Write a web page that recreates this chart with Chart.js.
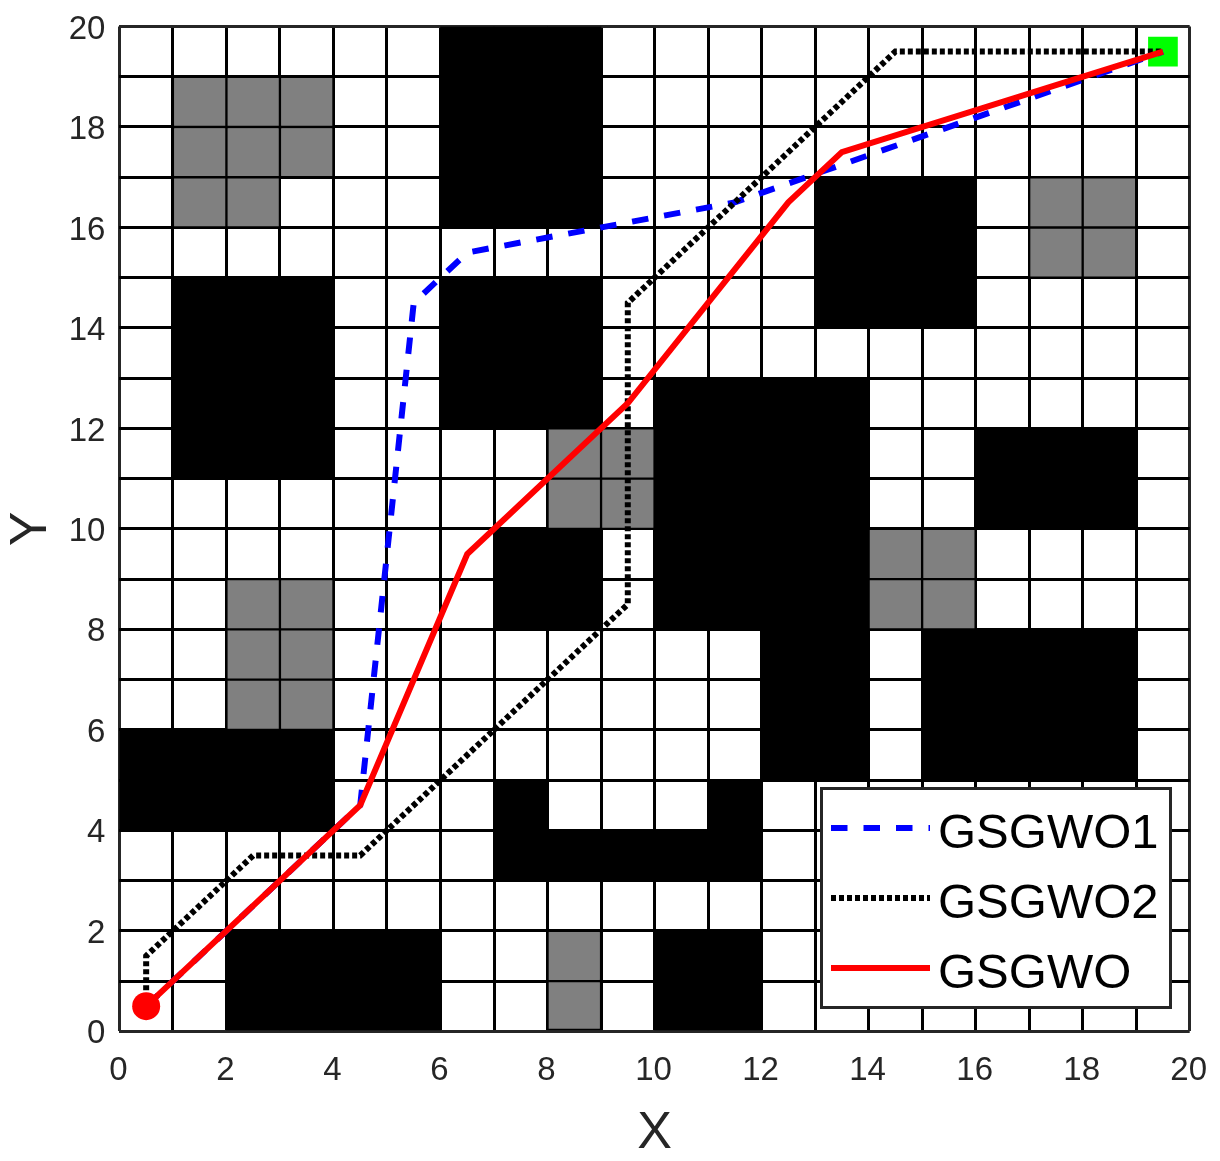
<!DOCTYPE html>
<html>
<head>
<meta charset="utf-8">
<title>GSGWO paths</title>
<script src="https://cdn.jsdelivr.net/npm/chart.js@4/dist/chart.umd.min.js"></script>
<style>
    html, body { margin: 0; padding: 0; background: #ffffff; }
    canvas { display: block; }
</style>
</head>
<body>
<canvas id="grid-chart" width="1220" height="1161"></canvas>
<script>
// Obstacle columns: column index, low row edge, high row edge
const blackCol  = [0, 1, 2, 3,  1, 2, 3,  2, 3, 4, 5,  6, 7, 8,  6, 7, 8,  7, 8,  7, 8, 9, 10, 11,  10, 11, 12, 13,  10, 11,  13, 14, 15,  15, 16, 17, 18,  16, 17, 18];
const blackLow  = [4, 4, 4, 4,  11, 11, 11,  0, 0, 0, 0,  16, 16, 16,  12, 12, 12,  8, 8,  3, 3, 3, 3, 3,  8, 8, 5, 5,  0, 0,  14, 14, 14,  5, 5, 5, 5,  10, 10, 10];
const blackHigh = [6, 6, 6, 6,  15, 15, 15,  2, 2, 2, 2,  20, 20, 20,  15, 15, 15,  10, 10,  5, 4, 4, 4, 5,  13, 13, 13, 13,  2, 2,  17, 17, 17,  8, 8, 8, 8,  12, 12, 12];

// Grey cells: column index, row index
const grayCol = [1, 2, 1, 2, 3, 1, 2, 3,  17, 18, 17, 18,  8, 9, 8, 9,  14, 15, 14, 15,  2, 3, 2, 3, 2, 3,  8, 8];
const grayRow = [16, 16, 17, 17, 17, 18, 18, 18,  15, 15, 16, 16,  10, 10, 11, 11,  8, 8, 9, 9,  6, 6, 7, 7, 8, 8,  0, 1];

// Paths
const path1X = [0.5, 4.5, 5.5, 6.5, 11.5, 19.5];
const path1Y = [0.5, 4.5, 14.5, 15.5, 16.5, 19.5];
const path2X = [0.5, 0.5, 2.5, 4.5, 9.5, 9.5, 14.5, 19.5];
const path2Y = [0.5, 1.5, 3.5, 3.5, 8.5, 14.5, 19.5, 19.5];
const path3X = [0.5, 4.5, 6.5, 9.5, 12.5, 13.5, 19.5];
const path3Y = [0.5, 4.5, 9.5, 12.5, 16.5, 17.5, 19.5];

const startPoint = [0.5, 0.5];
const goalPoint = [19.5, 19.5];

const seriesNames = ['GSGWO1', 'GSGWO2', 'GSGWO'];

const AXIS_COLOR = '#262626';
const FONT = '"Liberation Sans", Arial, sans-serif';

function zipPoints(xs, ys) {
    return xs.map((x, i) => ({ x: x, y: ys[i] }));
}

const blackBars = blackCol.map((c, i) => ({ x: c + 0.5, y: [blackLow[i], blackHigh[i]] }));
const grayBars = grayCol.map((c, i) => ({ x: c + 0.5, y: [grayRow[i], grayRow[i] + 1] }));

// Boxed legend inside the axes, like the MATLAB one
const boxedLegend = {
    id: 'boxedLegend',
    afterDatasetsDraw(chart) {
        const ctx = chart.ctx;
        const lines = chart.data.datasets.filter(d => d.legendRow !== undefined)
            .sort((a, b) => a.legendRow - b.legendRow);
        ctx.save();
        ctx.fillStyle = '#ffffff';
        ctx.strokeStyle = AXIS_COLOR;
        ctx.lineWidth = 3;
        ctx.fillRect(821.5, 788.5, 349, 219);
        ctx.strokeRect(821.5, 788.5, 349, 219);
        lines.forEach((d, i) => {
            const y = 828 + i * 70;
            ctx.beginPath();
            ctx.setLineDash(d.borderDash || []);
            ctx.strokeStyle = d.borderColor;
            ctx.lineWidth = d.borderWidth;
            ctx.moveTo(831, y);
            ctx.lineTo(930, y);
            ctx.stroke();
            ctx.setLineDash([]);
            ctx.fillStyle = '#000000';
            ctx.font = '49px ' + FONT;
            ctx.textBaseline = 'alphabetic';
            ctx.fillText(d.label, 938, y + 20);
        });
        ctx.restore();
    }
};

function gridColor(context) {
    const v = context.tick && context.tick.value;
    return v === 0 || v === 20 ? AXIS_COLOR : '#000000';
}

function axisOptions(name) {
    return {
        type: 'linear',
        min: 0,
        max: 20,
        offset: false,
        border: { display: false },
        grid: { color: gridColor, lineWidth: 3, drawTicks: false, offset: false },
        ticks: {
            stepSize: 1,
            autoSkip: false,
            maxRotation: 0,
            padding: 14,
            color: AXIS_COLOR,
            font: { family: FONT, size: 33 },
            callback: v => (v % 2 === 0 ? String(v) : '')
        },
        title: {
            display: true,
            text: name,
            color: AXIS_COLOR,
            font: { family: FONT, size: 52, lineHeight: 1 },
            padding: 4
        }
    };
}

// Fixed axes box, first/last tick labels must not push the plot area in
function fixScale(scale, size) {
    if (scale.isHorizontal()) {
        scale.height = size;
    } else {
        scale.width = size;
    }
    scale.paddingTop = 0;
    scale.paddingBottom = 0;
    scale.paddingLeft = 0;
    scale.paddingRight = 0;
}

const xAxis = axisOptions('X');
xAxis.ticks.padding = 20;
xAxis.ticks.labelOffset = -1;
xAxis.title.padding = { top: 0, bottom: 1 };
xAxis.afterFit = scale => fixScale(scale, 129.7);
const yAxis = axisOptions('Y');
yAxis.ticks.labelOffset = 3;
yAxis.title.padding = 6;
yAxis.afterFit = scale => fixScale(scale, 119.4);

new Chart(document.getElementById('grid-chart'), {
    type: 'scatter',
    data: {
        datasets: [
            {
                label: 'start',
                data: zipPoints([startPoint[0]], [startPoint[1]]),
                order: 1,
                pointStyle: 'circle',
                pointRadius: 14,
                backgroundColor: '#ff0000',
                borderWidth: 0
            },
            {
                label: seriesNames[2],
                legendRow: 2,
                data: zipPoints(path3X, path3Y),
                order: 2,
                showLine: true,
                borderColor: '#ff0000',
                borderWidth: 6,
                pointRadius: 0
            },
            {
                label: seriesNames[1],
                legendRow: 1,
                data: zipPoints(path2X, path2Y),
                order: 3,
                showLine: true,
                borderColor: '#000000',
                borderWidth: 6,
                borderDash: [5, 3],
                pointRadius: 0
            },
            {
                label: seriesNames[0],
                legendRow: 0,
                data: zipPoints(path1X, path1Y),
                order: 4,
                showLine: true,
                borderColor: '#0000ff',
                borderWidth: 6,
                borderDash: [16.5, 16],
                pointRadius: 0
            },
            {
                label: 'goal',
                data: zipPoints([goalPoint[0]], [goalPoint[1]]),
                order: 5,
                pointStyle: 'rect',
                pointRadius: 21,
                backgroundColor: '#00ff00',
                borderWidth: 0
            },
            {
                type: 'bar',
                label: 'blocked',
                data: blackBars,
                order: 6,
                grouped: false,
                barPercentage: 1,
                categoryPercentage: 1,
                backgroundColor: '#000000'
            },
            {
                type: 'bar',
                label: 'grey',
                data: grayBars,
                order: 7,
                grouped: false,
                barPercentage: 1,
                categoryPercentage: 1,
                backgroundColor: '#808080',
                borderColor: '#000000',
                borderWidth: 1.5,
                borderSkipped: false
            }
        ]
    },
    options: {
        responsive: false,
        animation: false,
        layout: { padding: { top: 26.5, right: 30.3, left: 0, bottom: 0 } },
        scales: { x: xAxis, y: yAxis },
        plugins: {
            legend: { display: false },
            tooltip: { enabled: false }
        }
    },
    plugins: [boxedLegend]
});
</script>
</body>
</html>
